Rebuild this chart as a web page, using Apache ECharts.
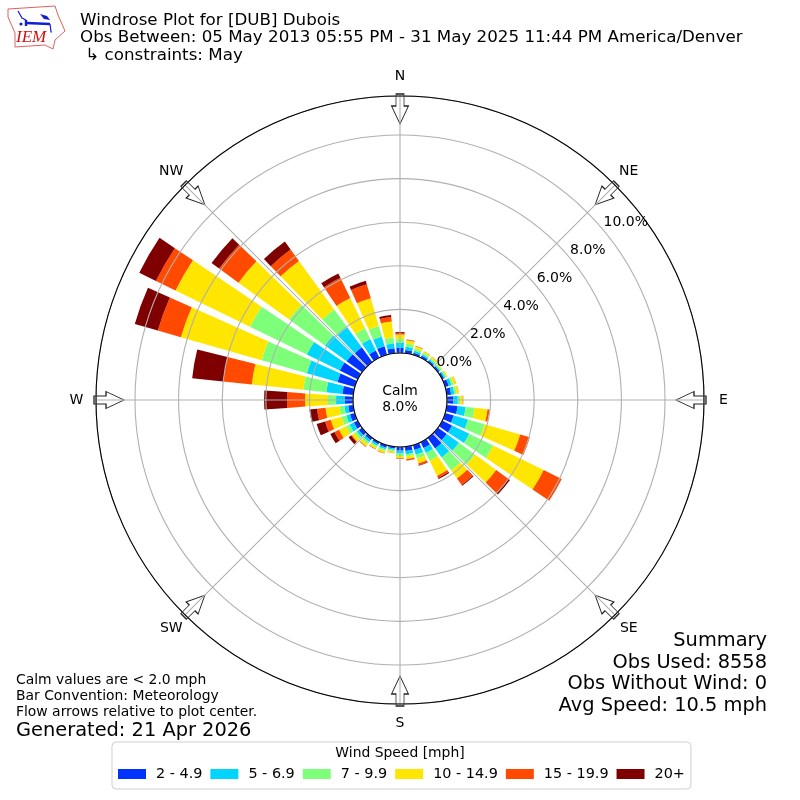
<!DOCTYPE html>
<html><head><meta charset="utf-8">
<style>html,body{margin:0;padding:0;background:#fff}#c{width:800px;height:800px}</style>
<script src="https://cdn.jsdelivr.net/npm/echarts@6/dist/echarts.min.js"></script>
</head><body><div id="c"></div>
<script>
const directions = [0,10,20,30,40,50,60,70,80,90,100,110,120,130,140,150,160,170,180,190,200,210,220,230,240,250,260,270,280,290,300,310,320,330,340,350];
const speedLabels = ['2 - 4.9','5 - 6.9','7 - 9.9','10 - 14.9','15 - 19.9','20+'];
const speedColors = ['#0033ff','#00d5ff','#7dff7a','#ffe600','#ff4a00','#7f0000'];
const bin2to5   = [.23,.15,.10,.10,.08,.08,.09,.17,.20,.30,.50,.41,.50,.50,.59,.30,.23,.20,.17,.08,.12,.10,.13,.18,.20,.23,.23,.37,.50,.83,.92,.87,.83,.37,.41,.23];
const bin5to7   = [.23,.15,.10,.08,.07,.06,.07,.13,.15,.20,.37,.68,.88,.69,.51,.25,.23,.15,.13,.07,.08,.08,.11,.12,.22,.18,.18,.41,.74,1.46,1.68,1.23,1.14,.59,.46,.23];
const bin7to10  = [.18,.15,.10,.07,.07,.06,.06,.10,.10,.12,.41,.79,1.22,.91,.73,.40,.18,.10,.12,.07,.08,.07,.10,.12,.18,.23,.23,.37,1.06,2.16,2.90,2.03,1.01,.54,.51,.27];
const bin10to15 = [.21,.15,.11,.07,.08,.05,.06,.12,.10,.11,.60,1.70,2.58,1.20,.46,.77,.23,.13,.10,.07,.10,.10,.14,.16,.36,.51,.64,1.05,2.38,3.85,3.80,2.87,2.75,1.55,1.32,.74];
const bin15to20 = [.07,.02,.02,.01,.01,0,0,.01,.01,.02,.09,.46,.92,.70,.37,.11,.09,.04,.02,.01,.02,.02,.02,.04,.23,.27,.39,.83,1.32,1.10,1.00,1.10,.65,1.03,.67,.20];
const bin20plus = [.04,.01,0,0,0,0,0,0,0,0,0,0,0,.08,.04,.05,.02,.01,.01,0,0,0,.01,.14,.21,.40,.35,1.05,1.43,1.10,.85,.43,.45,.22,.16,.10];
const speedBins = [bin2to5,bin5to7,bin7to10,bin10to15,bin15to20,bin20plus];
const radiusTicks = [0,2,4,6,8,10];
const compassNames = ['N','NE','E','SE','S','SW','W','NW'];
const arrowAngles = [0,45,90,135,180,225,270,315];
const titleLines = ['Windrose Plot for [DUB] Dubois','Obs Between: 05 May 2013 05:55 PM - 31 May 2025 11:44 PM America/Denver',' \u21b3 constraints: May'];
const summaryLines = ['Summary','Obs Used: 8558','Obs Without Wind: 0','Avg Speed: 10.5 mph'];
const noteLines = ['Calm values are < 2.0 mph','Bar Convention: Meteorology','Flow arrows relative to plot center.'];
const generatedText = 'Generated: 21 Apr 2026';
const calmLines = ['Calm','8.0%'];

const FONT = '"DejaVu Sans"';
const R0 = 47, R1 = 304, PER = 21.8;
const radiusMax = (R1 - R0) / PER;
const arrowRadius = (291 - R0) / PER;
const compassRadius = (323.5 - R0) / PER;
const txt = (x,y,text,size,align,extra) => ({type:'text',z:20,x,y,silent:true,style:Object.assign({text,font:size+'px '+FONT,fill:'#000',textAlign:align||'left',textVerticalAlign:'middle'},extra||{})});

const series = speedBins.map((vals,i)=>({
  type:'bar',name:speedLabels[i],coordinateSystem:'polar',stack:'wind',barWidth:'80%',z:2,silent:true,
  itemStyle:{color:speedColors[i]},
  data:vals.map((v,k)=>[v,directions[k]])
}));
series.push({
  type:'scatter',name:'arrows',coordinateSystem:'polar',z:1,silent:true,clip:false,
  symbol:'path://M-4,0 L4,0 L4,12 L8.5,12 L0,30 L-8.5,12 L-4,12 Z',symbolSize:[17,30],
  itemStyle:{color:'#fff',borderColor:'#222',borderWidth:1,opacity:1},
  data:arrowAngles.map(a=>({value:[arrowRadius,a],symbolRotate:-a}))
});
series.push({
  type:'scatter',name:'ticks',coordinateSystem:'polar',z:6,silent:true,clip:false,symbolSize:1,
  itemStyle:{color:'transparent'},
  label:{show:true,position:'right',distance:0,offset:[0,-7],color:'#000',opacity:1,fontFamily:FONT,fontSize:14,formatter:p=>p.value[0].toFixed(1)+'%'},
  data:radiusTicks.map(v=>[v,50])
});
series.push({
  type:'scatter',name:'compass',coordinateSystem:'polar',z:6,silent:true,clip:false,symbolSize:1,
  itemStyle:{color:'transparent'},
  label:{show:true,position:'inside',color:'#000',opacity:1,fontFamily:FONT,fontSize:14,formatter:p=>compassNames[p.dataIndex]},
  data:arrowAngles.map(a=>[compassRadius,a])
});

const graphics = [];
titleLines.forEach((t,i)=>graphics.push(txt(80,20.5+i*17.6,t,16.7)));
summaryLines.forEach((t,i)=>graphics.push(txt(767,641+i*21.7,t,19.4,'right')));
noteLines.forEach((t,i)=>graphics.push(txt(16,680+i*16,t,13.9)));
graphics.push(txt(16,730.5,generatedText,19.4));
calmLines.forEach((t,i)=>graphics.push(txt(400,391.5+i*16,t,13.9,'center')));
graphics.push(txt(400,753,'Wind Speed [mph]',13.9,'center'));
// logo
graphics.push({type:'polygon',z:20,silent:true,shape:{points:[[8,9],[55,6],[58,15],[65,31],[55,40],[53,49],[45,45],[15,47],[15,33],[8,17]]},style:{fill:'#fff',stroke:'#e06060',lineWidth:1}});
graphics.push({type:'polyline',z:21,silent:true,shape:{points:[[26,23],[50,24]]},style:{stroke:'#1020d0',lineWidth:2.4,fill:null}});
graphics.push({type:'polyline',z:21,silent:true,shape:{points:[[26,20],[26,26]]},style:{stroke:'#1020d0',lineWidth:2.4,fill:null}});
graphics.push({type:'polyline',z:21,silent:true,shape:{points:[[18,11],[22,18],[26,20]]},style:{stroke:'#1020d0',lineWidth:1.2,fill:null}});
graphics.push({type:'polygon',z:21,silent:true,shape:{points:[[40,14],[47,16],[50,20],[44,19]]},style:{fill:'#1020d0'}});
graphics.push({type:'polyline',z:21,silent:true,shape:{points:[[50,24],[51,32],[52,32]]},style:{stroke:'#1020d0',lineWidth:1.2,fill:null}});
graphics.push({type:'circle',z:21,silent:true,shape:{cx:21,cy:24,r:1.6},style:{fill:'#1020d0'}});
graphics.push({type:'text',z:21,silent:true,x:16,y:38,style:{text:'IEM',font:'italic 17px "Liberation Serif"',fill:'#d01010',textVerticalAlign:'middle'}});

const chart = echarts.init(document.getElementById('c'),null,{renderer:'canvas'});
chart.setOption({
  animation:false,
  backgroundColor:'#fff',
  polar:{center:[400,400],radius:[R0,R1]},
  angleAxis:{type:'value',min:0,max:360,interval:45,startAngle:90,clockwise:true,z:4,
    axisLine:{show:true,lineStyle:{color:'#000',width:1.1}},
    axisTick:{show:false},
    axisLabel:{show:false},
    splitLine:{show:true,lineStyle:{color:'#b0b0b0',width:1.1}}
  },
  radiusAxis:{type:'value',min:0,max:radiusMax,interval:2,z:4,
    axisLine:{show:false},axisTick:{show:false},axisLabel:{show:false},
    splitLine:{show:true,lineStyle:{color:'#b0b0b0',width:1.1}}
  },
  legend:{data:speedLabels,left:112,top:742,orient:'horizontal',icon:'rect',itemWidth:28,itemHeight:10,itemGap:8,
    padding:[25,6,8,6],backgroundColor:'#fff',borderColor:'#cfcfcf',borderWidth:1,borderRadius:4,selectedMode:false,
    textStyle:{color:'#000',fontFamily:FONT,fontSize:14.4,padding:[0,0,0,5]}
  },
  graphic:{elements:graphics},
  series
});
</script></body></html>
